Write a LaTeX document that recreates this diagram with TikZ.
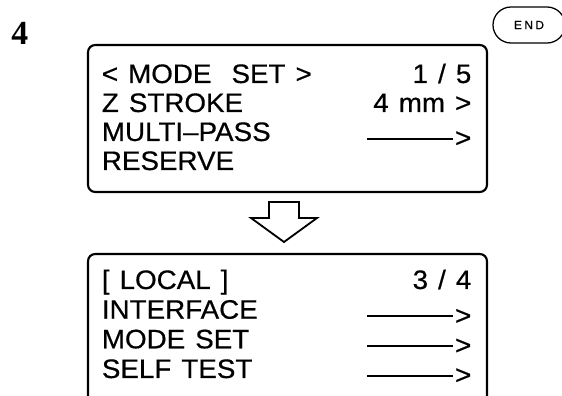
\documentclass[tikz,border=0pt]{standalone}
\usepackage{fontspec}
\setmainfont{Liberation Sans}[FakeStretch=1.04,FakeBold=0.5,WordSpace=1.3]
\newfontfamily\stepfont{Liberation Serif}
\newfontfamily\keyfont{Liberation Sans}[LetterSpace=20,FakeBold=0.6]
\usepackage{xcolor}
\usepackage{tikz}
\newcommand{\lcdarrow}{\rule[0.03cm]{2.15cm}{0.055cm}\kern0.05cm\raisebox{-0.15cm}{>}}

\begin{document}
\begin{tikzpicture}[x=1cm,y=1cm,
  lcdbox/.style={line width=1.5pt,rounded corners=0.18cm},
  lcdtext/.style={inner sep=0pt,font=\fontsize{19}{21}\selectfont}]
  \useasboundingbox (0,0) rectangle (14.05,9.9);
  \clip (0,0) rectangle (14.05,9.9);
  \node[inner sep=0pt,anchor=base west,font=\stepfont\fontsize{24}{24}\selectfont\bfseries] (stepno) at (0.28,8.775) {4};
  \node[draw,line width=0.9pt,rounded corners=0.45cm,minimum width=1.8cm,minimum height=0.9cm,inner sep=0pt,font=\keyfont\fontsize{8.5}{9}\selectfont] (endkey) at (13.225,9.275) {END};
  \draw[lcdbox] (2.2,5.1) rectangle (12.175,8.775);
  \node[lcdtext,anchor=base west] (modetitle) at (2.54,7.825) {< MODE\ \ SET >};
  \node[lcdtext,anchor=base east] (modepage) at (11.79,7.825) {1 / 5};
  \node[lcdtext,anchor=base west] (zstroke) at (2.54,7.1) {Z STROKE};
  \node[lcdtext,anchor=base east] (zvalue) at (11.79,7.1) {4 mm >};
  \node[lcdtext,anchor=base west] (multipass) at (2.54,6.375) {MULTI--PASS};
  \node[lcdtext,anchor=base east] (multiarrow) at (11.79,6.375) {\lcdarrow};
  \node[lcdtext,anchor=base west] (reserve) at (2.54,5.65) {RESERVE};
  \draw[line width=1.3pt,line join=miter] (6.725,4.85) -- (7.475,4.85) -- (7.475,4.45) -- (7.925,4.45) -- (7.1,3.85) -- (6.275,4.45) -- (6.725,4.45) -- cycle;
  \draw[lcdbox] (2.2,-0.5) rectangle (12.175,3.55);
  \node[lcdtext,anchor=base west] (localtitle) at (2.54,2.675) {[ LOCAL ]};
  \node[lcdtext,anchor=base east] (localpage) at (11.79,2.675) {3 / 4};
  \node[lcdtext,anchor=base west] (interface) at (2.54,1.9325) {INTERFACE};
  \node[lcdtext,anchor=base east] (interfacearrow) at (11.79,1.9325) {\lcdarrow};
  \node[lcdtext,anchor=base west] (modeset) at (2.54,1.1925) {MODE SET};
  \node[lcdtext,anchor=base east] (modesetarrow) at (11.79,1.1925) {\lcdarrow};
  \node[lcdtext,anchor=base west] (selftest) at (2.54,0.45) {SELF TEST};
  \node[lcdtext,anchor=base east] (selftestarrow) at (11.79,0.45) {\lcdarrow};
\end{tikzpicture}
\end{document}
